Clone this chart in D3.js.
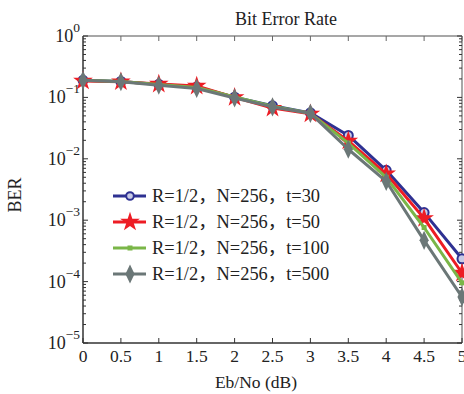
<!DOCTYPE html>
<html>
<head>
<meta charset="utf-8">
<script src="https://cdn.jsdelivr.net/npm/d3@7"></script>
<style>
  body { margin: 0; background: #fff; }
  svg text { font-family: "Liberation Serif", "Noto Sans CJK SC", serif; fill: #222; }
</style>
</head>
<body>
<div id="chart"></div>
<script>
// ---- data ----
const ebno = [0, 0.5, 1, 1.5, 2, 2.5, 3, 3.5, 4, 4.5, 5];
const berT30 = [0.19, 0.182, 0.163, 0.148, 0.101, 0.073, 0.056, 0.024, 0.0065, 0.00133, 0.000235];
const berT50 = [0.185, 0.18, 0.165, 0.153, 0.1, 0.067, 0.054, 0.0195, 0.0057, 0.00107, 0.000138];
const berT100 = [0.19, 0.182, 0.162, 0.145, 0.102, 0.072, 0.055, 0.018, 0.005, 0.00076, 0.0000955];
const berT500 = [0.19, 0.18, 0.158, 0.14, 0.098, 0.07, 0.055, 0.0143, 0.0043, 0.00047, 0.0000562];
const seriesNames = ["R=1/2，N=256，t=30", "R=1/2，N=256，t=50", "R=1/2，N=256，t=100", "R=1/2，N=256，t=500"];
const xTicks = [0, 0.5, 1, 1.5, 2, 2.5, 3, 3.5, 4, 4.5, 5];
const xTickLabels = ["0", "0.5", "1", "1.5", "2", "2.5", "3", "3.5", "4", "4.5", "5"];
const yExponents = [0, -1, -2, -3, -4, -5];

const series = [
    { name: seriesNames[0], values: berT30, color: "#2e3192", marker: "circle" },
    { name: seriesNames[1], values: berT50, color: "#ed1c24", marker: "star" },
    { name: seriesNames[2], values: berT100, color: "#7ab648", marker: "square" },
    { name: seriesNames[3], values: berT500, color: "#6b7777", marker: "diamond" }
];

// ---- layout ----
const W = 464, H = 394;
const pL = 83, pR = 462, pT = 36, pB = 343;

const svg = d3.select("#chart").append("svg")
    .attr("width", W)
    .attr("height", H);

const x = d3.scaleLinear().domain([0, 5]).range([pL, pR]);
const y = d3.scaleLog().domain([1e-5, 1]).range([pB, pT]);

// minor log ticks
const minor = [];
for (let e = -5; e < 0; e++) {
    for (let m = 2; m <= 9; m++) minor.push(m * Math.pow(10, e));
}

const darkAxis = "#333";
const lightAxis = "#8a8a8a";

// frame: top/right lighter, left/bottom darker
svg.append("line").attr("x1", pL).attr("x2", pR).attr("y1", pT).attr("y2", pT)
    .attr("stroke", lightAxis).attr("stroke-width", 1.5);
svg.append("line").attr("x1", pR).attr("x2", pR).attr("y1", pT).attr("y2", pB)
    .attr("stroke", lightAxis).attr("stroke-width", 1.5);
svg.append("line").attr("x1", pL).attr("x2", pL).attr("y1", pT).attr("y2", pB)
    .attr("stroke", darkAxis).attr("stroke-width", 1.5);
svg.append("line").attr("x1", pL).attr("x2", pR).attr("y1", pB).attr("y2", pB)
    .attr("stroke", darkAxis).attr("stroke-width", 1.5);

// x ticks (bottom and top, inward)
const tickG = svg.append("g").attr("stroke", darkAxis).attr("stroke-width", 1);
xTicks.forEach(t => {
    tickG.append("line").attr("x1", x(t)).attr("x2", x(t)).attr("y1", pB).attr("y2", pB - 5);
    tickG.append("line").attr("x1", x(t)).attr("x2", x(t)).attr("y1", pT).attr("y2", pT + 5)
        .attr("stroke", "#666");
});
// y ticks major and minor (left and right, inward)
yExponents.forEach(e => {
    const v = Math.pow(10, e);
    tickG.append("line").attr("x1", pL).attr("x2", pL + 5).attr("y1", y(v)).attr("y2", y(v));
    tickG.append("line").attr("x1", pR).attr("x2", pR - 5).attr("y1", y(v)).attr("y2", y(v));
});
minor.forEach(v => {
    tickG.append("line").attr("x1", pL).attr("x2", pL + 3).attr("y1", y(v)).attr("y2", y(v));
    tickG.append("line").attr("x1", pR).attr("x2", pR - 3).attr("y1", y(v)).attr("y2", y(v));
});

// x tick labels
svg.append("g").selectAll("text")
    .data(xTicks)
    .enter().append("text")
    .attr("x", d => x(d))
    .attr("y", pB + 19)
    .attr("text-anchor", "middle")
    .style("font-size", "17.5px")
    .text((d, i) => xTickLabels[i]);

// y tick labels 10^e
yExponents.forEach(e => {
    const t = svg.append("text")
        .attr("x", 80)
        .attr("y", y(Math.pow(10, e)) + 6)
        .attr("text-anchor", "end")
        .style("font-size", "18px");
    t.append("tspan").text("10");
    t.append("tspan")
        .attr("dy", -10)
        .style("font-size", "13.5px")
        .text(e === 0 ? "0" : "\u2212" + (-e));
});

// title and axis labels
svg.append("text")
    .attr("x", 286)
    .attr("y", 25)
    .attr("text-anchor", "middle")
    .style("font-size", "18px")
    .text("Bit Error Rate");

svg.append("text")
    .attr("x", 256)
    .attr("y", 388)
    .attr("text-anchor", "middle")
    .style("font-size", "17.5px")
    .text("Eb/No (dB)");

svg.append("text")
    .attr("transform", "translate(21,195) rotate(-90)")
    .attr("text-anchor", "middle")
    .style("font-size", "18px")
    .text("BER");

// ---- markers ----
const star = d3.symbol().type(d3.symbolStar).size(120);
const diamond = d3.symbol().type(d3.symbolDiamond).size(80);

function drawMarker(g, s, cx, cy, scale = 1) {
    if (s.marker === "circle") {
        g.append("circle").attr("cx", cx).attr("cy", cy).attr("r", 4.5 * scale)
            .attr("fill", "#c9cbe6").attr("stroke", s.color).attr("stroke-width", 2);
    } else if (s.marker === "star") {
        g.append("path").attr("d", star).attr("transform", `translate(${cx},${cy}) scale(${scale})`)
            .attr("fill", s.color);
    } else if (s.marker === "square") {
        g.append("rect").attr("x", cx - 2.5 * scale).attr("y", cy - 2.5 * scale)
            .attr("width", 5 * scale).attr("height", 5 * scale).attr("fill", s.color);
    } else {
        g.append("path").attr("d", diamond).attr("transform", `translate(${cx},${cy}) scale(0.95,1.15)`)
            .attr("fill", s.color);
    }
}

// ---- lines ----
const line = d3.line()
    .x(d => x(d[0]))
    .y(d => y(d[1]));

series.forEach(s => {
    const pts = ebno.map((e, i) => [e, s.values[i]]);
    const g = svg.append("g");
    g.append("path")
        .datum(pts)
        .attr("fill", "none")
        .attr("stroke", s.color)
        .attr("stroke-width", 3)
        .attr("stroke-linejoin", "round")
        .attr("d", line);
    pts.forEach(p => drawMarker(g, s, x(p[0]), y(p[1])));
});

// ---- legend ----
const legendRows = [196, 222, 248, 274];
series.forEach((s, i) => {
    const g = svg.append("g");
    const ly = legendRows[i];
    g.append("line")
        .attr("x1", 113).attr("x2", 146)
        .attr("y1", ly).attr("y2", ly)
        .attr("stroke", s.color)
        .attr("stroke-width", 3);
    drawMarker(g, s, 130, ly, s.marker === "circle" ? 0.85 : 1);
    g.append("text")
        .attr("x", 152)
        .attr("y", ly + 6)
        .style("font-size", "18.4px")
        .text(s.name);
});
</script>
</body>
</html>
